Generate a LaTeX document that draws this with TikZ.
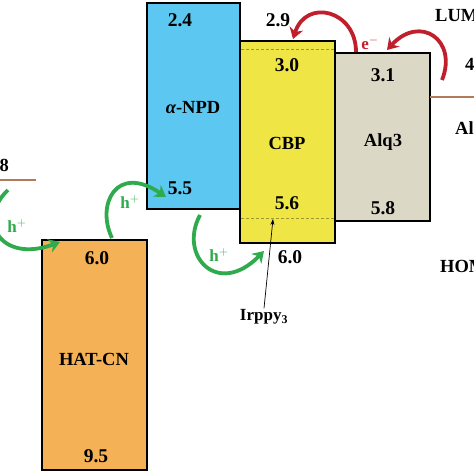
\documentclass[tikz,border=0pt]{standalone}
\usepackage{fontspec}
\setmainfont{Liberation Serif}
\usetikzlibrary{arrows.meta}
\definecolor{npdblue}{HTML}{5CC8F2}
\definecolor{cbpyellow}{HTML}{EFE545}
\definecolor{alqgrey}{HTML}{DCD8C6}
\definecolor{hatorange}{HTML}{F4B155}
\definecolor{hgreen}{HTML}{2FAA4C}
\definecolor{ered}{HTML}{C0202C}
\definecolor{brownline}{HTML}{B27A58}
\definecolor{dashcol}{HTML}{9C9A2A}
\tikzset{
  layer/.style={draw=black, line width=1.4pt, inner sep=0pt, anchor=center},
  num/.style={font=\bfseries\fontsize{19.5}{21}\selectfont, inner sep=0pt, text=black},
  lname/.style={font=\bfseries\fontsize{18.5}{20}\selectfont, inner sep=0pt, text=black},
  harrow/.style={draw=hgreen, line width=3.8pt, -{Stealth[length=11pt,width=14pt]}},
  earrow/.style={draw=ered, line width=3.8pt, -{Stealth[length=11pt,width=14pt]}},
  hlabel/.style={font=\bfseries\fontsize{17}{19}\selectfont, text=hgreen, inner sep=0pt},
  elabel/.style={font=\bfseries\fontsize{17}{19}\selectfont, text=ered, inner sep=0pt},
  side/.style={font=\bfseries\fontsize{18.5}{20}\selectfont, inner sep=0pt, text=black, anchor=west},
  level/.style={draw=brownline, line width=1.6pt},
  dashl/.style={draw=dashcol, line width=0.8pt, dash pattern=on 3pt off 2pt}
}
\begin{document}
\begin{tikzpicture}[x=1pt,y=-1pt]
\useasboundingbox (0,0) rectangle (474,474);
% boxes
\node[layer, fill=npdblue, minimum width=93pt, minimum height=206pt] (npd) at (193.5,106) {};
\node[layer, fill=hatorange, minimum width=105pt, minimum height=230pt] (hat) at (94.5,355) {};
\node[layer, fill=alqgrey, minimum width=95pt, minimum height=168pt] (alq) at (382.5,137) {};
\node[layer, fill=cbpyellow, minimum width=95pt, minimum height=202pt] (cbp) at (287.5,142) {};
% dashed levels in CBP
\coordinate (d1l) at (241,49); \coordinate (d1r) at (334,49);
\coordinate (d2l) at (241,218); \coordinate (d2r) at (334,218);
\draw[dashl] (d1l) -- (d1r);
\draw[dashl] (d2l) -- (d2r);
% electrode levels
\coordinate (ito1) at (0,180); \coordinate (ito2) at (36,180);
\coordinate (al1) at (430,97); \coordinate (al2) at (474,97);
\draw[level] (ito1) -- (ito2);
\draw[level] (al1) -- (al2);
% numbers and names
\node[num] (n24) at (180,20) {2.4};
\node[lname] (nnpd) at (193,108) {{\itshape α}-NPD};
\node[num] (n55) at (180,188) {5.5};
\node[num] (n29) at (278,20) {2.9};
\node[num] (n30) at (287,65) {3.0};
\node[lname] (ncbp) at (287,143) {CBP};
\node[num] (n56) at (287,203) {5.6};
\node[num] (n60b) at (290,257) {6.0};
\node[num] (n31) at (383,75) {3.1};
\node[lname] (nalq) at (383,142) {Alq3};
\node[num] (n58) at (383,208) {5.8};
\node[num] (n60) at (97,258) {6.0};
\node[lname] (nhat) at (94,359) {HAT-CN};
\node[num] (n95) at (96,456) {9.5};
\node[font=\bfseries\fontsize{17}{19}\selectfont, inner sep=1pt] (irppy) at (264,317) {Irppy$_{\mathbf 3}$};
\coordinate (irtip) at (273,219);
\draw[line width=0.7pt, -{Stealth[length=6pt,width=4pt]}] (irppy.north) -- (irtip);
% side texts (cut by the picture's edge, as in the reference)
\node[side] (lumo) at (435,15) {LUMO};
\node[side] (wf) at (465,65) {4.2};
\node[side] (al) at (455,128) {Al};
\node[side] (homo) at (440,266) {HOMO};
\node[side, anchor=east] (ito) at (9,165) {4.8};
% green hole arrows
\coordinate (g1s) at (8,190); \coordinate (g1e) at (60,242);
\coordinate (g2s) at (112,238); \coordinate (g2e) at (166,197);
\coordinate (g3s) at (200,215); \coordinate (g3e) at (264,251);
\draw[harrow] (g1s) .. controls (-24,220) and (0,264) .. (g1e);
\draw[harrow] (g2s) .. controls (96,205) and (116,163) .. (g2e);
\draw[harrow] (g3s) .. controls (178,256) and (218,298) .. (g3e);
\node[hlabel] (h1) at (17,226) {h$^{\mathbf +}$};
\node[hlabel] (h2) at (130,202) {h$^{\mathbf +}$};
\node[hlabel] (h3) at (219,255) {h$^{\mathbf +}$};
% red electron arrows
\coordinate (r1s) at (442,80); \coordinate (r1e) at (387,50);
\coordinate (r2s) at (356,52); \coordinate (r2e) at (293,39);
\draw[earrow] (r1s) .. controls (458,40) and (420,14) .. (r1e);
\draw[earrow] (r2s) .. controls (356,10) and (306,-2) .. (r2e);
\node[elabel] (e1) at (370,43) {e$^{\mathbf -}$};
\end{tikzpicture}
\end{document}
